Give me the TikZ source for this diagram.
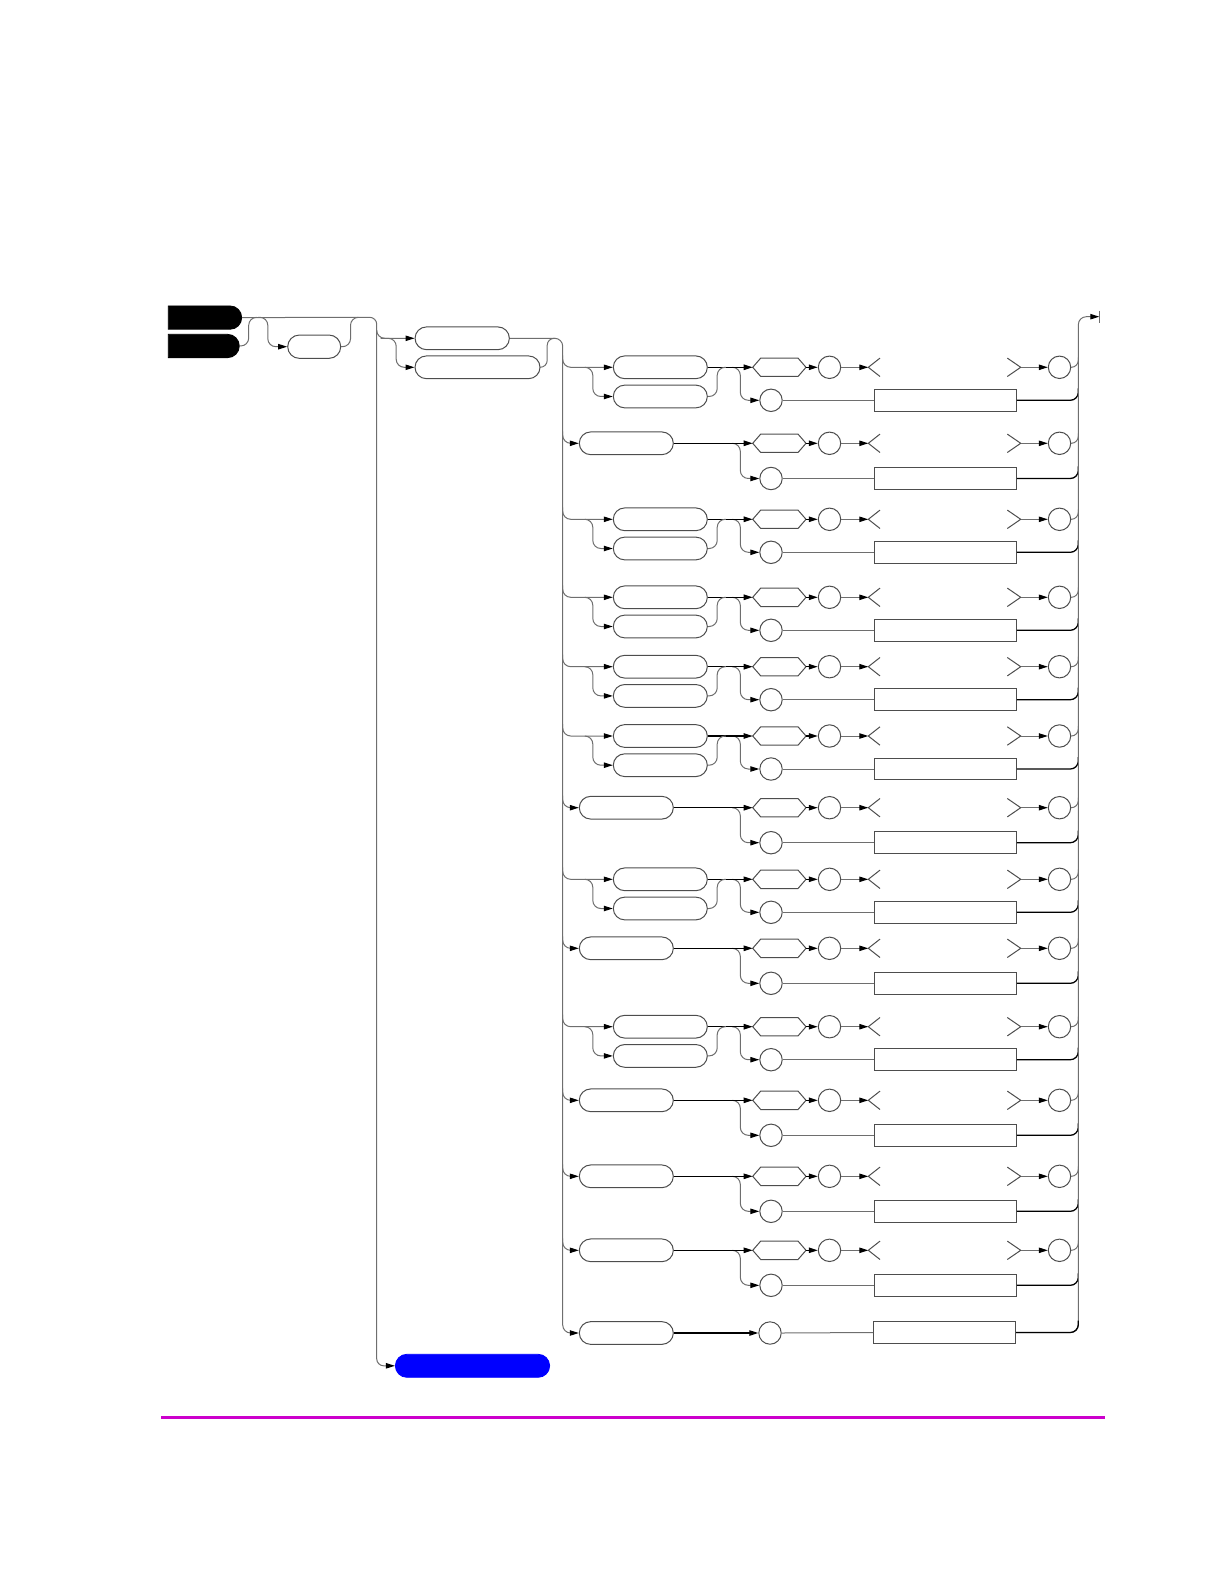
\documentclass[tikz,border=0pt]{standalone}
\usepackage{tikz}
\usetikzlibrary{arrows.meta,positioning,calc,shapes.misc}
\definecolor{rrblue}{RGB}{0,0,255}
\definecolor{rrmagenta}{RGB}{204,0,204}
\definecolor{rrgray}{RGB}{110,110,110}

\begin{document}
\begin{tikzpicture}[x=0.5pt,y=-0.5pt,
  >={Triangle[length=4.5pt,width=2.7pt,color=black]},
  kw/.style={rounded rectangle, draw=rrgray!70!black, line width=0.5pt, minimum width=47pt, minimum height=11.35pt, inner sep=0pt},
  blk/.style={rounded rectangle, rounded rectangle west arc=none, fill=black, draw=black, minimum height=11.65pt, inner sep=0pt},
  circ/.style={circle, draw=rrgray!70!black, line width=0.5pt, minimum size=11.2pt, inner sep=0pt},
  rbox/.style={rectangle, draw=rrgray!70!black, line width=0.5pt, minimum width=71pt, minimum height=10.85pt, inner sep=0pt},
  hexa/.style={minimum width=26.65pt, minimum height=9.2pt, inner sep=0pt, outer sep=0pt},
  opn/.style={minimum width=76.2pt, minimum height=9.2pt, inner sep=0pt, outer sep=0pt},
  edge/.style={draw=rrgray!70!black, line width=0.5pt},
  railg/.style={draw=rrgray, line width=0.5pt},
  railk/.style={draw=black, line width=0.65pt}]
\useasboundingbox (0,0) rectangle (1224,1582);
% Entry boxes and optional loop
\node[blk, minimum width=36.7pt] (bk1) at (205,317.6) {};
\node[blk, minimum width=35.5pt] (bk2) at (203.8,346) {};
\node[kw, minimum width=26.5pt, minimum height=11.65pt] (lp) at (314.2,346.7) {};
\coordinate (s0) at (376.7,317.3);
\draw[railg, rounded corners=4pt] (bk2.east) -| ($(bk2.east)+(9,-28.7)$) -- ($(bk2.east)+(17,-28.7)$);
\draw[railg, ->, rounded corners=4pt] ($(lp.west)+(-29,-29.4)$) -| ($(lp.west)+(-19.4,0)$) -- (lp.west);
\draw[railg, rounded corners=4pt] (lp.east) -| ($(lp.east)+(9.3,-29.4)$) -- ($(lp.east)+(17.3,-29.4)$);
% Two heads
\node[kw, minimum width=47.15pt] (ka) at (462.2,338.3) {};
\node[kw, minimum width=62.5pt] (kb) at (477.5,367.3) {};
\node[rounded rectangle, fill=rrblue, draw=rrblue, minimum width=77.15pt, minimum height=11.5pt, inner sep=0pt] (blue) at (472.5,1365.8) {};
\draw[railg, ->, rounded corners=3.5pt] (bk1.east) -- (s0) |- (blue.west);
\draw[railg, ->, rounded corners=4pt] ($(s0)+(0,13)$) |- (ka.west);
\draw[railg, ->, rounded corners=4pt] ($(ka.west)+(-34,0)$) -| ($(kb.west)+(-18.3,0)$) -- (kb.west);
\draw[railg, rounded corners=3.5pt] (kb.east) -| ($(kb.east)+(6.7,-29)$) -- ($(kb.east)+(14.7,-29)$);
% Spines
\coordinate (s1) at (562.7,338.3);
\coordinate (s2) at (1078.3,316.7);
\coordinate (out) at (1099.3,316.7);
% Common right part of each row
\foreach \n/\y/\yl in {1/367.3/400.3, 2/443.3/478.5, 3/519.3/552.3, 4/597.3/630.3, 5/666.7/699.7,
    6/736/769, 7/807.7/842.7, 8/879.3/912.3, 9/948.3/983.3, 10/1026.7/1059.7,
    11/1100.3/1135.3, 12/1176.3/1211.3, 13/1250.3/1285.3} {
  \node[hexa] (hx\n) at (779.35,\y) {};
  \draw[edge] (hx\n.west) -- ($(hx\n.north west)+(8,0)$) -- ($(hx\n.north east)+(-8,0)$) -- (hx\n.east)
    -- ($(hx\n.south east)+(-8,0)$) -- ($(hx\n.south west)+(8,0)$) -- cycle;
  \node[circ] (ca\n) at (829.5,\y) {};
  \node[opn] (op\n) at (944.5,\y) {};
  \draw[edge] ($(op\n.north west)+(11.7,0)$) -- (op\n.west) -- ($(op\n.south west)+(11.7,0)$);
  \draw[edge] ($(op\n.north east)+(-13.4,0)$) -- (op\n.east) -- ($(op\n.south east)+(-13.4,0)$);
  \node[circ] (cb\n) at (1059.5,\y) {};
  \node[circ] (cl\n) at (771,\yl) {};
  \node[rbox] (rc\n) at (945.3,\yl) {};
  \draw[railk, ->] (hx\n.east) -- (ca\n.west);
  \draw[railg, ->] (ca\n.east) -- (op\n.west);
  \draw[railg, ->] (op\n.east) -- (cb\n.west);
  \draw[railg, rounded corners=3.5pt] (cb\n.east) -| ($(s2 |- cb\n)+(0,-10)$);
  \draw[railg, ->, rounded corners=4pt] ($(hx\n.west)+(-20,0)$) -| ($(cl\n.west)+(-19,0)$) -- (cl\n.west);
  \draw[railg] (cl\n.east) -- (rc\n.west);
  \draw[railk, rounded corners=4pt] (rc\n.east) -| ($(s2 |- rc\n)+(0,-12)$);
}
% Rows with two keywords
\foreach \n/\y in {1/367.3, 3/519.3, 4/597.3, 5/666.7, 6/736, 8/879.3, 10/1026.7} {
  \node[kw] (kw\n) at (660.3,\y) {};
  \node[kw] (kx\n) at (660.3,\y+29.2) {};
  \draw[railg, ->, rounded corners=4pt] ($(s1 |- kw\n)+(0,-12)$) |- (kw\n.west);
  \draw[railg, ->, rounded corners=4pt] ($(kw\n.west)+(-28,0)$) -| ($(kx\n.west)+(-20,0)$) -- (kx\n.west);
  \draw[railk, ->] (kw\n.east) -- (hx\n.west);
  \draw[railg, rounded corners=4pt] (kx\n.east) -| ($(kx\n.east)+(9.4,-29.2)$) -- ($(kx\n.east)+(18,-29.2)$);
}
% Rows with one keyword
\foreach \n/\y in {2/443.3, 7/807.7, 9/948.3, 11/1100.3, 12/1176.3, 13/1250.3} {
  \node[kw] (kw\n) at (626.3,\y) {};
  \draw[railg, ->, rounded corners=4pt] ($(s1 |- kw\n)+(0,-12)$) |- (kw\n.west);
  \draw[railk, ->] (kw\n.east) -- (hx\n.west);
}
% Last row
\node[kw] (kw14) at (626.3,1333) {};
\node[circ] (cl14) at (770,1333) {};
\node[rbox] (rc14) at (944.5,1332.5) {};
\draw[railg, ->, rounded corners=4pt] (ka.east) -- (s1) |- (kw14.west);
\draw[railk, ->] (kw14.east) -- (cl14.west);
\draw[railg] (cl14.east) -- (rc14.west);
\draw[railg, ->, rounded corners=4pt] (rc14.east) -| (s2) -- (out);
\draw[railk, rounded corners=4pt] (rc14.east) -| ($(s2 |- rc14)+(0,-12)$);
\draw[railg] ($(out)+(0,-6)$) -- ($(out)+(0,6)$);
% Footer rule
\draw[rrmagenta, line width=1.35pt] (161,1417.7) -- (1105,1417.7);
\end{tikzpicture}
\end{document}
